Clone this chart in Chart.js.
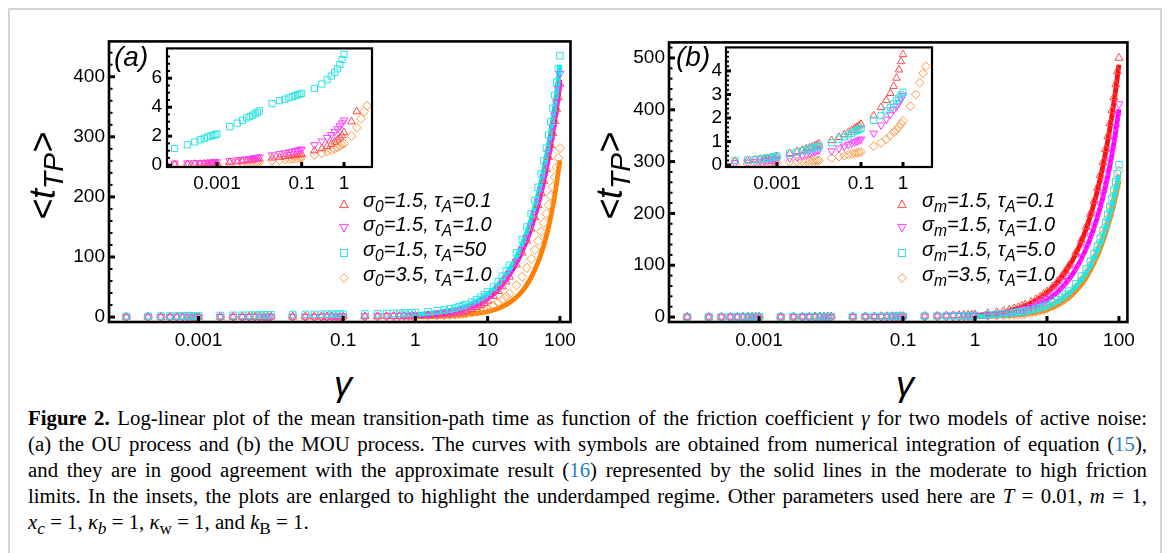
<!DOCTYPE html>
<html>
<head>
<meta charset="utf-8">
<title>Mean transition-path time vs friction</title>
<script src="https://cdn.jsdelivr.net/npm/chart.js@4.4.1/dist/chart.umd.min.js"></script>
<style>
  html, body { margin: 0; padding: 0; background: #fff; }
  body { width: 1170px; height: 553px; position: relative; overflow: hidden; font-family: "Liberation Sans", Arial, sans-serif; color: #000; }
  .box { position: absolute; left: 8px; top: 8px; width: 1150px; height: 560px; border: 2px solid #d4d4d4; }
  .plot { position: absolute; }
  .plot canvas { display: block; }
  .tag { position: absolute; font-style: italic; font-size: 28px; line-height: 30px; }
  .ytitle { position: absolute; font-size: 36px; font-style: italic; white-space: nowrap; line-height: 1; transform: translate(-50%, -50%) rotate(-90deg); }
  .ytitle sub { font-size: 78%; vertical-align: -0.3em; line-height: 0; }
  .xtitle { position: absolute; font-size: 36px; font-style: italic; line-height: 1; transform: translate(-50%, -50%); }
  .leg { position: absolute; font-style: italic; font-size: 20px; line-height: 24px; white-space: nowrap; }
  .leg sub { font-size: 78%; vertical-align: -0.3em; line-height: 0; }
  .legmark { position: absolute; width: 10px; height: 10px; }
  .caption { position: absolute; left: 28px; top: 405px; width: 1119px; font-family: "Liberation Serif", "Times New Roman", serif; font-size: 20.8px; line-height: 26px; }
  .caption div { white-space: nowrap; text-align: justify; text-align-last: justify; }
  .caption div.last { text-align-last: left; }
  .ref { color: #1f7fc4; }
</style>
</head>
<body>
<div class="box"></div>

<div class="plot" style="left:49px;top:26px"><canvas id="mainA" width="534" height="336"></canvas></div>
<div class="plot" style="left:609px;top:27px"><canvas id="mainB" width="533" height="335"></canvas></div>
<div class="plot" style="left:137px;top:32px"><canvas id="insetA" width="243" height="165"></canvas></div>
<div class="plot" style="left:696px;top:32px"><canvas id="insetB" width="244" height="165"></canvas></div>

<div class="tag" style="left:114px;top:42px">(a)</div>
<div class="tag" style="left:676px;top:42px">(b)</div>

<div class="ytitle" style="left:43px;top:176px">&lt;<i>t</i><sub><i>TP</i></sub>&gt;</div>
<div class="ytitle" style="left:610px;top:176px">&lt;<i>t</i><sub><i>TP</i></sub>&gt;</div>
<div class="xtitle" style="left:343px;top:384px">γ</div>
<div class="xtitle" style="left:905px;top:384px">γ</div>

<div id="legends"></div>

<div class="caption">
  <div><b>Figure 2.</b> Log-linear plot of the mean transition-path time as function of the friction coefficient <i>γ</i> for two models of active noise:</div>
  <div>(a) the OU process and (b) the MOU process. The curves with symbols are obtained from numerical integration of equation (<span class="ref">15</span>),</div>
  <div>and they are in good agreement with the approximate result (<span class="ref">16</span>) represented by the solid lines in the moderate to high friction</div>
  <div>limits. In the insets, the plots are enlarged to highlight the underdamped regime. Other parameters used here are <i>T</i> = 0.01, <i>m</i> = 1,</div>
  <div class="last"><i>x<sub>c</sub></i> = 1, <i>κ<sub>b</sub></i> = 1, <i>κ</i><sub>w</sub> = 1, and <i>k</i><sub>B</sub> = 1.</div>
</div>

<script>
// friction values where the symbols sit
const gammaLow = [0.0001, 0.0002, 0.0003, 0.0004, 0.0005, 0.0006, 0.0007, 0.0008, 0.0009, 0.001,
  0.002, 0.003, 0.004, 0.005, 0.006, 0.007, 0.008, 0.009, 0.01,
  0.02, 0.03, 0.04, 0.05, 0.06, 0.07, 0.08, 0.09, 0.1,
  0.2, 0.3, 0.4, 0.5, 0.6, 0.7, 0.8, 0.9, 1];
const gammaHigh = [1.5, 2, 2.5, 3, 3.5, 4, 4.5, 5, 6, 7, 8, 9, 10, 12, 14, 16, 18, 20,
  25, 30, 35, 40, 45, 50, 55, 60, 65, 70, 75, 80, 85, 90, 95, 100];
// friction values of the approximate (solid) curves
const gammaLine = [1, 1.5, 2, 3, 4, 5, 7, 10, 15, 20, 25, 30, 35, 40, 50, 60, 70, 80, 90, 100];

// (a) OU process - symbols
const aRedLow = [0.04, 0.05, 0.06, 0.07, 0.08, 0.09, 0.1, 0.11, 0.12, 0.13, 0.2, 0.25, 0.28, 0.31, 0.34, 0.37, 0.4, 0.42, 0.45, 0.5, 0.55, 0.6, 0.63, 0.66, 0.69, 0.71, 0.73, 0.75, 1.0, 1.15, 1.3, 1.45, 1.6, 1.75, 1.9, 2.05, 2.25];
const aRedHigh = [3.0, 3.7, 4.5, 5.5, 6.5, 7.5, 8.5, 10, 13, 16, 19.5, 23, 27, 35, 43, 51, 59, 67, 87, 107, 127, 147, 166, 186, 206, 226, 246, 266, 286, 306, 326, 346, 366, 388];
const aMagLow = [0.12, 0.14, 0.15, 0.16, 0.17, 0.18, 0.19, 0.2, 0.21, 0.22, 0.3, 0.35, 0.38, 0.41, 0.44, 0.47, 0.5, 0.52, 0.55, 0.7, 0.78, 0.84, 0.9, 0.94, 0.98, 1.02, 1.06, 1.1, 1.4, 1.65, 1.9, 2.1, 2.3, 2.5, 2.7, 2.9, 3.1];
const aMagHigh = [4, 5, 6, 7.5, 9, 10.5, 12, 13.5, 17, 20.5, 24, 28, 32, 40, 48, 56, 64, 72, 92, 112, 132, 152, 172, 192, 212, 233, 253, 274, 294, 315, 336, 357, 380, 405];
const aCyanLow = [1.15, 1.4, 1.6, 1.75, 1.85, 1.95, 2.0, 2.05, 2.1, 2.15, 2.65, 2.9, 3.1, 3.25, 3.35, 3.45, 3.55, 3.65, 3.75, 4.25, 4.45, 4.55, 4.65, 4.72, 4.8, 4.85, 4.9, 4.95, 5.3, 5.6, 5.9, 6.15, 6.4, 6.65, 6.95, 7.3, 7.65];
const aCyanHigh = [9, 10.5, 12, 13.5, 15, 17, 19, 21, 25, 29, 33, 37, 42, 50, 59, 68, 77, 86, 107, 129, 150, 172, 194, 216, 238, 260, 281, 303, 325, 347, 369, 391, 413, 435];
const aOrgLow = [0.03, 0.03, 0.04, 0.04, 0.04, 0.05, 0.05, 0.05, 0.05, 0.06, 0.1, 0.12, 0.14, 0.16, 0.17, 0.18, 0.19, 0.2, 0.21, 0.3, 0.34, 0.38, 0.41, 0.44, 0.46, 0.48, 0.5, 0.52, 0.7, 0.82, 0.93, 1.03, 1.13, 1.23, 1.32, 1.41, 1.5];
const aOrgHigh = [2.0, 2.6, 3.2, 3.7, 4.1, 4.6, 5.2, 5.8, 7.2, 8.8, 10.5, 12.3, 14, 19, 24, 29, 34, 39, 53, 67, 82, 97, 112, 127, 142, 157, 172, 187, 202, 217, 233, 249, 265, 281];
// (a) solid lines
const aRedLine = [2, 3, 4.5, 7.5, 10.5, 13.5, 20, 31, 50, 70, 90, 110, 129, 149, 188, 228, 268, 308, 348, 388];
const aMagLine = [2, 3, 5, 8, 11, 14, 21, 33, 52, 72, 92, 112, 132, 152, 192, 232, 272, 313, 354, 395];
const aCyanLine = [4, 6, 8, 11, 14, 18, 26, 38, 58, 79, 100, 121, 142, 163, 205, 247, 289, 331, 375, 420];
const aOrgLine = [0.5, 0.8, 1, 2, 3, 4, 6, 9, 16, 24, 33, 43, 54, 66, 92, 120, 151, 185, 222, 261];

// (b) MOU process - symbols
const bRedLow = [0.16, 0.2, 0.23, 0.25, 0.27, 0.29, 0.31, 0.33, 0.35, 0.37, 0.5, 0.58, 0.64, 0.7, 0.74, 0.78, 0.82, 0.86, 0.9, 1.05, 1.18, 1.3, 1.4, 1.48, 1.55, 1.62, 1.68, 1.74, 2.1, 2.45, 2.75, 3.05, 3.35, 3.7, 4.05, 4.4, 4.7];
const bRedHigh = [7, 9, 11.5, 14, 16.5, 19, 21.5, 24, 29, 34, 39, 44, 49, 59, 69, 79, 89, 99, 124, 149, 174, 199, 224, 249, 274, 299, 324, 349, 374, 399, 424, 449, 474, 500];
const bMagLow = [0.1, 0.12, 0.14, 0.16, 0.18, 0.19, 0.21, 0.22, 0.24, 0.25, 0.3, 0.35, 0.4, 0.45, 0.5, 0.54, 0.58, 0.62, 0.65, 0.6, 0.72, 0.8, 0.87, 0.93, 0.98, 1.02, 1.06, 1.1, 1.35, 1.7, 1.95, 2.15, 2.35, 2.5, 2.65, 2.8, 2.95];
const bMagHigh = [4.3, 5.7, 7.2, 8.8, 10.5, 12.3, 14, 16, 20, 24, 28, 32, 36, 44, 52, 60, 68, 76, 96, 116, 136, 157, 177, 198, 218, 239, 260, 281, 302, 323, 345, 366, 388, 411];
const bCyanLow = [0.2, 0.22, 0.24, 0.26, 0.28, 0.3, 0.32, 0.34, 0.36, 0.38, 0.5, 0.56, 0.61, 0.65, 0.69, 0.72, 0.75, 0.78, 0.8, 0.95, 1.1, 1.2, 1.28, 1.35, 1.42, 1.47, 1.52, 1.56, 1.9, 2.1, 2.3, 2.45, 2.6, 2.75, 2.85, 2.98, 3.1];
const bCyanHigh = [4.2, 5.3, 6.3, 7.3, 8.3, 9.3, 10.3, 11.3, 13.5, 15.8, 18, 20.5, 23, 28, 33, 38, 44, 50, 64, 79, 93, 108, 122, 137, 152, 167, 182, 198, 213, 229, 245, 261, 277, 294];
const bOrgLow = [0.04, 0.05, 0.06, 0.07, 0.08, 0.08, 0.09, 0.1, 0.1, 0.11, 0.14, 0.15, 0.16, 0.17, 0.17, 0.18, 0.18, 0.19, 0.2, 0.3, 0.36, 0.4, 0.44, 0.47, 0.5, 0.52, 0.54, 0.56, 0.8, 0.95, 1.1, 1.25, 1.4, 1.5, 1.62, 1.75, 1.88];
const bOrgHigh = [2.5, 3.0, 3.5, 3.9, 4.2, 4.8, 5.5, 6.3, 8, 10, 12, 14, 16.5, 22, 27, 32, 37, 43, 57, 71, 85, 100, 114, 129, 144, 159, 174, 189, 204, 219, 235, 250, 266, 282];
// (b) solid lines
const bRedLine = [3, 5, 7, 12, 17, 22, 32, 47, 72, 97, 121, 146, 170, 195, 243, 292, 341, 389, 438, 487];
const bMagLine = [2, 3, 4.5, 7.5, 10.5, 14, 21, 32, 52, 72, 92, 112, 132, 152, 192, 232, 272, 314, 357, 401];
const bCyanLine = [1.5, 2.5, 3.5, 5.5, 7.5, 9.5, 14, 20, 32, 45, 58, 72, 85, 99, 127, 155, 184, 214, 244, 275];
const bOrgLine = [1, 1.5, 2, 3, 4.5, 6, 9, 14, 25, 37, 50, 63, 76, 90, 118, 147, 175, 204, 233, 263];

// largest gamma shown in each inset (red, magenta, cyan, orange)
const insetMaxA = [2, 1, 1, 3.5];
const insetMaxB = [1, 1, 1, 3.5];

// tick labels
const mainXTicks = [0.001, 0.1, 1, 10, 100];
const mainXLabels = ['0.001', '0.1', '1', '10', '100'];
const insetXTicks = [0.001, 0.1, 1];
const insetXLabels = ['0.001', '0.1', '1'];
const mainAYTicks = [0, 100, 200, 300, 400];
const mainBYTicks = [0, 100, 200, 300, 400, 500];
const insetAYTicks = [0, 2, 4, 6];
const insetBYTicks = [0, 1, 2, 3, 4];

const legendA = [
    '<i>σ</i><sub>0</sub>=1.5, <i>τ</i><sub>A</sub>=0.1',
    '<i>σ</i><sub>0</sub>=1.5, <i>τ</i><sub>A</sub>=1.0',
    '<i>σ</i><sub>0</sub>=1.5, <i>τ</i><sub>A</sub>=50',
    '<i>σ</i><sub>0</sub>=3.5, <i>τ</i><sub>A</sub>=1.0'
];
const legendB = [
    '<i>σ</i><sub>m</sub>=1.5, <i>τ</i><sub>A</sub>=0.1',
    '<i>σ</i><sub>m</sub>=1.5, <i>τ</i><sub>A</sub>=1.0',
    '<i>σ</i><sub>m</sub>=1.5, <i>τ</i><sub>A</sub>=5.0',
    '<i>σ</i><sub>m</sub>=3.5, <i>τ</i><sub>A</sub>=1.0'
];

// look of the four series: red, magenta, cyan, orange
const STYLES = [
    { marker: '#ff4a4a', line: '#ff1010', point: 'triangle', rot: 0, order: 3 },
    { marker: '#ff3cff', line: '#ff00ff', point: 'triangle', rot: 180, order: 2 },
    { marker: '#2fe3e3', line: '#00f0f0', point: 'rect', rot: 0, order: 1 },
    { marker: '#ff9a45', line: '#ff8000', point: 'rectRot', rot: 0, order: 4 }
];
const SVG_SHAPES = [
    '<polygon points="5,1 9.2,8.6 0.8,8.6"/>',
    '<polygon points="0.8,1.4 9.2,1.4 5,9"/>',
    '<rect x="1.5" y="1.5" width="7" height="7"/>',
    '<polygon points="5,0.6 9.4,5 5,9.4 0.6,5"/>'
];

const TICK_FONT = { family: 'Liberation Sans', size: 19 };

function points(xs, ys) {
    return xs.map((x, i) => ({ x: x, y: ys[i] }));
}

function minorTicks(lo, hi, step, major) {
    const out = [];
    for (let v = lo; v <= hi + 1e-9; v += step) {
        const r = Math.round(v / step) * step;
        if (Math.abs(r / major - Math.round(r / major)) > 1e-6) out.push(r);
    }
    return out;
}

// frame, inward ticks
const framePlugin = {
    id: 'frame',
    afterDatasetsDraw(chart, args, o) {
        const { ctx, chartArea: a, scales: { x, y } } = chart;
        ctx.save();
        ctx.fillStyle = '#000';
        (o.yMinor || []).forEach(v => {
            const py = y.getPixelForValue(v);
            ctx.fillRect(a.left, py - 1, o.minorLen, 2);
        });
        (o.yMajor || []).forEach(v => {
            const py = y.getPixelForValue(v);
            ctx.fillRect(a.left, py - 1.5, o.majorLen, 3);
        });
        (o.xMajor || []).forEach(v => {
            const px = x.getPixelForValue(v);
            ctx.fillRect(px - 1.5, a.bottom - o.majorLen, 3, o.majorLen);
        });
        ctx.lineWidth = o.width;
        ctx.strokeStyle = '#000';
        ctx.strokeRect(a.left, a.top, a.width, a.height);
        ctx.restore();
    }
};

function markerSet(i, pts, r) {
    const s = STYLES[i];
    return {
        data: pts, showLine: false, order: s.order,
        pointStyle: s.point, pointRotation: s.rot, pointRadius: r, pointHoverRadius: r,
        pointBorderColor: s.marker, pointBackgroundColor: 'rgba(0,0,0,0)', pointBorderWidth: 1,
        borderColor: s.marker, backgroundColor: 'rgba(0,0,0,0)'
    };
}

function lineSet(i, ys) {
    const s = STYLES[i];
    return {
        data: points(gammaLine, ys), showLine: true, order: 10 + s.order,
        pointRadius: 0, borderColor: s.line, borderWidth: 4.8,
        cubicInterpolationMode: 'monotone', fill: false
    };
}

function buildChart(id, cfg) {
    return new Chart(document.getElementById(id), {
        type: 'scatter',
        data: { datasets: cfg.datasets },
        options: {
            responsive: false,
            animation: false,
            devicePixelRatio: 1,
            events: [],
            layout: { padding: { top: cfg.padTop, right: cfg.padRight, left: 0, bottom: 0 } },
            plugins: {
                legend: { display: false },
                tooltip: { enabled: false },
                frame: cfg.frame
            },
            scales: {
                x: {
                    type: 'logarithmic', min: cfg.xMin, max: cfg.xMax,
                    afterBuildTicks: s => { s.ticks = cfg.xTicks.map(v => ({ value: v })); },
                    afterFit: s => { s.height = cfg.xH; },
                    ticks: { font: TICK_FONT, color: '#000', padding: cfg.xPad, maxRotation: 0, autoSkip: false,
                        callback: (v, i) => cfg.xLabels[i] },
                    grid: { display: false, drawTicks: false },
                    border: { display: false }
                },
                y: {
                    type: 'linear', min: cfg.yMin, max: cfg.yMax,
                    afterBuildTicks: s => { s.ticks = cfg.yTicks.map(v => ({ value: v })); },
                    afterFit: s => { s.width = cfg.yW; },
                    ticks: { font: TICK_FONT, color: '#000', padding: cfg.yPad,
                        callback: v => String(v) },
                    grid: { display: false, drawTicks: false },
                    border: { display: false }
                }
            }
        },
        plugins: [framePlugin]
    });
}

function panelSets(low, high, lines) {
    const xs = gammaLow.concat(gammaHigh);
    const sets = [];
    lines.forEach((ys, i) => sets.push(lineSet(i, ys)));
    low.forEach((ys, i) => sets.push(markerSet(i, points(xs, ys.concat(high[i])), 4.6)));
    return sets;
}

function insetSets(low, high, maxG) {
    const xs = gammaLow.concat(gammaHigh);
    return low.map((ys, i) => {
        const all = points(xs, ys.concat(high[i])).filter(p => p.x <= maxG[i] + 1e-9);
        return markerSet(i, all, 4.4);
    });
}

const aLow = [aRedLow, aMagLow, aCyanLow, aOrgLow];
const aHigh = [aRedHigh, aMagHigh, aCyanHigh, aOrgHigh];
const bLow = [bRedLow, bMagLow, bCyanLow, bOrgLow];
const bHigh = [bRedHigh, bMagHigh, bCyanHigh, bOrgHigh];

buildChart('mainA', {
    datasets: panelSets(aLow, aHigh, [aRedLine, aMagLine, aCyanLine, aOrgLine]),
    padTop: 10, padRight: 10, xH: 40, yW: 60, xPad: 7, yPad: 4,
    xMin: 5.75e-5, xMax: 140, xTicks: mainXTicks, xLabels: mainXLabels,
    yMin: -8.2, yMax: 458.8, yTicks: mainAYTicks,
    frame: { width: 2.6, majorLen: 6, minorLen: 3.5, xMajor: mainXTicks, yMajor: mainAYTicks, yMinor: minorTicks(20, 440, 20, 100) }
});

buildChart('mainB', {
    datasets: panelSets(bLow, bHigh, [bRedLine, bMagLine, bCyanLine, bOrgLine]),
    padTop: 10, padRight: 10, xH: 40, yW: 60, xPad: 7, yPad: 4,
    xMin: 5.6e-5, xMax: 131, xTicks: mainXTicks, xLabels: mainXLabels,
    yMin: -9.5, yMax: 530, yTicks: mainBYTicks,
    frame: { width: 2.6, majorLen: 6, minorLen: 3.5, xMajor: mainXTicks, yMajor: mainBYTicks, yMinor: minorTicks(20, 520, 20, 100) }
});

buildChart('insetA', {
    datasets: insetSets(aLow, aHigh, insetMaxA),
    padTop: 8, padRight: 8, xH: 30, yW: 30, xPad: 5, yPad: 5,
    xMin: 6.6e-5, xMax: 4.58, xTicks: insetXTicks, xLabels: insetXLabels,
    yMin: -0.13, yMax: 8.06, yTicks: insetAYTicks,
    frame: { width: 2.2, majorLen: 5, minorLen: 3, xMajor: insetXTicks, yMajor: insetAYTicks, yMinor: minorTicks(0.5, 8, 0.5, 2) }
});

buildChart('insetB', {
    datasets: insetSets(bLow, bHigh, insetMaxB),
    padTop: 8, padRight: 8, xH: 30, yW: 30, xPad: 5, yPad: 4,
    xMin: 6.1e-5, xMax: 4.9, xTicks: insetXTicks, xLabels: insetXLabels,
    yMin: -0.08, yMax: 5.0, yTicks: insetBYTicks,
    frame: { width: 2.2, majorLen: 5, minorLen: 3, xMajor: insetXTicks, yMajor: insetBYTicks, yMinor: minorTicks(0.2, 5, 0.2, 1) }
});

// legends inside the main panels
const legendRows = [200, 224, 249, 274];
function addLegend(labels, markX, textX) {
    const host = document.getElementById('legends');
    labels.forEach((html, i) => {
        const cy = legendRows[i];
        const mark = document.createElement('div');
        mark.className = 'legmark';
        mark.style.left = (markX - 5) + 'px';
        mark.style.top = (cy - 5) + 'px';
        mark.innerHTML = '<svg width="10" height="10" viewBox="0 0 10 10" fill="none" stroke="' +
            STYLES[i].marker + '" stroke-width="1">' + SVG_SHAPES[i] + '</svg>';
        host.appendChild(mark);
        const txt = document.createElement('div');
        txt.className = 'leg';
        txt.style.left = textX + 'px';
        txt.style.top = (cy - 12) + 'px';
        txt.innerHTML = html;
        host.appendChild(txt);
    });
}
addLegend(legendA, 344, 363);
addLegend(legendB, 902, 922);
</script>
</body>
</html>
